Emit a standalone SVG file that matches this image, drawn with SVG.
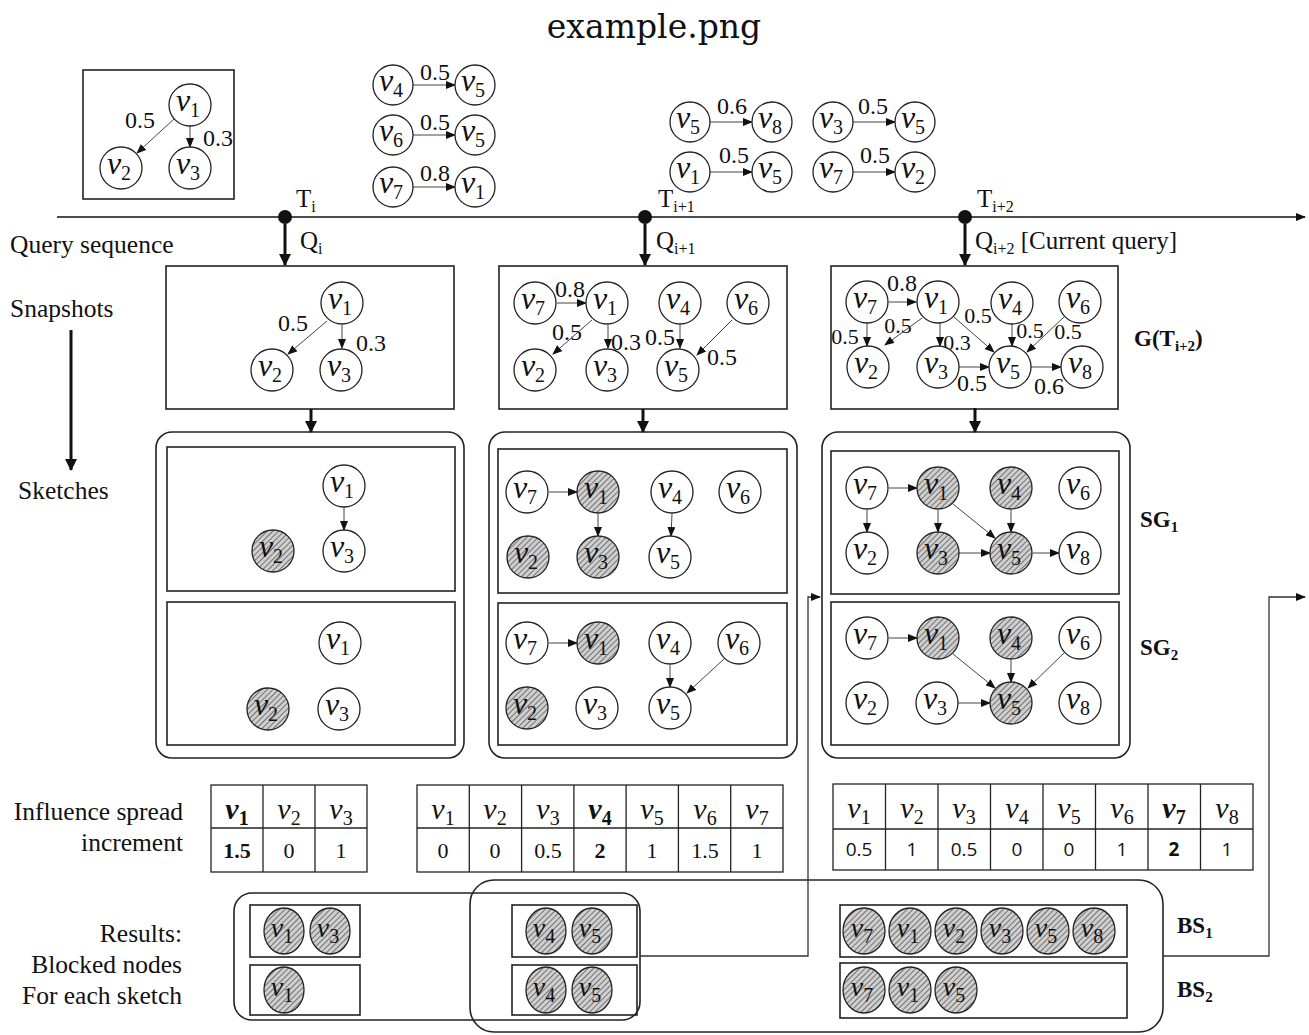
<svg xmlns="http://www.w3.org/2000/svg" width="1309" height="1035" viewBox="0 0 1309 1035">
  <style>
    .serif { font-family: "Liberation Serif", "Times New Roman", serif; fill: #111; }
    .lbl { font-family: "Liberation Serif", "Times New Roman", serif; font-size: 25.5px; fill: #111; }
    .w { font-family: "Liberation Serif", "Times New Roman", serif; font-size: 24px; fill: #111; text-anchor: middle; }
    .w.tight { font-size: 22px; }
    .bold { font-family: "Liberation Serif", "Times New Roman", serif; font-size: 23px; font-weight: bold; fill: #111; }
    .node circle, .node ellipse { fill: #fff; stroke: #222; stroke-width: 1.3; }
    .node.hit circle, .node.hit ellipse { fill: url(#hatch); }
    .node text { font-family: "Liberation Serif", "Times New Roman", serif; font-style: italic; font-size: 32px; fill: #111; text-anchor: middle; }
    .node.sm text { font-size: 28px; }
    .sub { font-style: normal; font-size: 20px; }
    .box { fill: none; stroke: #222; stroke-width: 1.6; }
    .edge { stroke: #444; stroke-width: 1; fill: none; marker-end: url(#arr); }
    .thick { stroke: #111; stroke-width: 3; fill: none; marker-end: url(#arrBig); }
    .wire { stroke: #333; stroke-width: 1.3; fill: none; }
    .cell { fill: none; stroke: #222; stroke-width: 1.3; }
    .hd { font-family: "Liberation Serif", "Times New Roman", serif; font-style: italic; font-size: 30px; fill: #111; text-anchor: middle; }
    .val { font-family: "Liberation Serif", "Times New Roman", serif; font-size: 22px; fill: #111; text-anchor: middle; }
    .val2 { font-family: "Open Sans", "Liberation Sans", sans-serif; font-size: 19px; fill: #111; text-anchor: middle; }
  </style>
  <defs>
    <pattern id="hatch" patternUnits="userSpaceOnUse" width="4" height="4" patternTransform="rotate(45)">
      <rect width="4" height="4" fill="#cfcfcf"/>
      <line x1="0" y1="0" x2="0" y2="4" stroke="#4a4a4a" stroke-width="1.4"/>
    </pattern>
    <marker id="arr" markerUnits="userSpaceOnUse" markerWidth="10" markerHeight="8" refX="9" refY="4" orient="auto">
      <path d="M0,0 L10,4 L0,8 z" fill="#111"/>
    </marker>
    <marker id="arrBig" markerUnits="userSpaceOnUse" markerWidth="12" markerHeight="12" refX="11" refY="6" orient="auto">
      <path d="M0,0 L12,6 L0,12 z" fill="#111"/>
    </marker>
  </defs>

  <rect width="1309" height="1035" fill="#fff"/>

  <!-- title -->
  <text x="654" y="38" font-family="DejaVu Serif, serif" font-size="33" text-anchor="middle" fill="#111">example.png</text>

  <!-- side captions -->
  <g id="captions">
    <text class="lbl" x="10" y="253">Query sequence</text>
    <text class="lbl" x="10" y="317">Snapshots</text>
    <text class="lbl" x="18" y="499">Sketches</text>
    <text class="lbl" x="183" y="820" text-anchor="end">Influence spread</text>
    <text class="lbl" x="183" y="851" text-anchor="end">increment</text>
    <text class="lbl" x="182" y="942" text-anchor="end">Results:</text>
    <text class="lbl" x="182" y="973" text-anchor="end">Blocked nodes</text>
    <text class="lbl" x="182" y="1004" text-anchor="end">For each sketch</text>
    <text class="bold" x="1134" y="346">G(T<tspan font-size="15" dy="5">i+2</tspan><tspan dy="-5">)</tspan></text>
    <text class="bold" x="1140" y="527">SG<tspan font-size="15" dy="5">1</tspan></text>
    <text class="bold" x="1140" y="655">SG<tspan font-size="15" dy="5">2</tspan></text>
    <text class="bold" x="1177" y="933">BS<tspan font-size="15" dy="5">1</tspan></text>
    <text class="bold" x="1177" y="997">BS<tspan font-size="15" dy="5">2</tspan></text>
  </g>

  <!-- timeline -->
  <g id="timeline">
    <line x1="57" y1="217" x2="1305" y2="217" stroke="#111" stroke-width="1.5" marker-end="url(#arr)"/>
    <circle cx="285" cy="217" r="7" fill="#111"/>
    <circle cx="645" cy="217" r="7" fill="#111"/>
    <circle cx="965" cy="217" r="7" fill="#111"/>
    <text class="serif" font-size="25" x="296" y="207">T<tspan font-size="16" dy="5">i</tspan></text>
    <text class="serif" font-size="25" x="658" y="207">T<tspan font-size="16" dy="5">i+1</tspan></text>
    <text class="serif" font-size="25" x="977" y="207">T<tspan font-size="16" dy="5">i+2</tspan></text>
    <text class="serif" font-size="25" x="300" y="249">Q<tspan font-size="16" dy="5">i</tspan></text>
    <text class="serif" font-size="25" x="656" y="249">Q<tspan font-size="16" dy="5">i+1</tspan></text>
    <text class="serif" font-size="25" x="975" y="249">Q<tspan font-size="16" dy="5">i+2</tspan><tspan dy="-5"> [Current query]</tspan></text>
  </g>

  <!-- frames: snapshots, sketch panels, tables, result groups -->
  <g id="frames">
    <rect class="box" x="83" y="70" width="151" height="129"/>
    <rect class="box" x="166" y="266" width="288" height="143"/>
    <rect class="box" x="499" y="266" width="288" height="143"/>
    <rect class="box" x="831" y="266" width="287" height="143"/>

    <rect class="box" x="156" y="432" width="308" height="326" rx="16"/>
    <rect class="box" x="167" y="447" width="288" height="144"/>
    <rect class="box" x="167" y="602" width="288" height="143"/>
    <rect class="box" x="489" y="432" width="308" height="326" rx="16"/>
    <rect class="box" x="498" y="449" width="289" height="144"/>
    <rect class="box" x="498" y="603" width="289" height="142"/>
    <rect class="box" x="822" y="432" width="308" height="326" rx="16"/>
    <rect class="box" x="831" y="451" width="288" height="143"/>
    <rect class="box" x="831" y="602" width="288" height="143"/>

    <rect class="box" x="234" y="893" width="406" height="127" rx="18"/>
    <rect class="box" x="470" y="880" width="693" height="152" rx="24"/>
    <rect class="box" x="250" y="905" width="110" height="52"/>
    <rect class="box" x="250" y="965" width="110" height="50"/>
    <rect class="box" x="512" y="905" width="125" height="52"/>
    <rect class="box" x="512" y="965" width="125" height="50"/>
    <rect class="box" x="840" y="905" width="287" height="52"/>
    <rect class="box" x="840" y="963" width="287" height="55"/>
  </g>

  <!-- influence tables -->
  <g id="table-i">
    <rect class="cell" x="211" y="785" width="156" height="87"/>
    <line class="cell" x1="211" y1="828" x2="367" y2="828"/>
    <line class="cell" x1="263" y1="785" x2="263" y2="872"/>
    <line class="cell" x1="315" y1="785" x2="315" y2="872"/>
    <text class="hd" x="237" y="819" font-weight="bold">v<tspan class="sub" dy="6">1</tspan></text>
    <text class="hd" x="289" y="819">v<tspan class="sub" dy="6">2</tspan></text>
    <text class="hd" x="341" y="819">v<tspan class="sub" dy="6">3</tspan></text>
    <text class="val" x="237" y="858" font-weight="bold">1.5</text>
    <text class="val" x="289" y="858">0</text>
    <text class="val" x="341" y="858">1</text>
  </g>
  <g id="table-i1">
    <rect class="cell" x="417" y="785" width="366" height="87"/>
    <line class="cell" x1="417" y1="828" x2="783" y2="828"/>
    <line class="cell" x1="469.3" y1="785" x2="469.3" y2="872"/>
    <line class="cell" x1="521.6" y1="785" x2="521.6" y2="872"/>
    <line class="cell" x1="573.9" y1="785" x2="573.9" y2="872"/>
    <line class="cell" x1="626.1" y1="785" x2="626.1" y2="872"/>
    <line class="cell" x1="678.4" y1="785" x2="678.4" y2="872"/>
    <line class="cell" x1="730.7" y1="785" x2="730.7" y2="872"/>
    <text class="hd" x="443" y="819">v<tspan class="sub" dy="6">1</tspan></text>
    <text class="hd" x="495" y="819">v<tspan class="sub" dy="6">2</tspan></text>
    <text class="hd" x="548" y="819">v<tspan class="sub" dy="6">3</tspan></text>
    <text class="hd" x="600" y="819" font-weight="bold">v<tspan class="sub" dy="6">4</tspan></text>
    <text class="hd" x="652" y="819">v<tspan class="sub" dy="6">5</tspan></text>
    <text class="hd" x="705" y="819">v<tspan class="sub" dy="6">6</tspan></text>
    <text class="hd" x="757" y="819">v<tspan class="sub" dy="6">7</tspan></text>
    <text class="val" x="443" y="858">0</text>
    <text class="val" x="495" y="858">0</text>
    <text class="val" x="548" y="858">0.5</text>
    <text class="val" x="600" y="858" font-weight="bold">2</text>
    <text class="val" x="652" y="858">1</text>
    <text class="val" x="705" y="858">1.5</text>
    <text class="val" x="757" y="858">1</text>
  </g>
  <g id="table-i2">
    <rect class="cell" x="833" y="784" width="420" height="86"/>
    <line class="cell" x1="833" y1="829" x2="1253" y2="829"/>
    <line class="cell" x1="885.5" y1="784" x2="885.5" y2="870"/>
    <line class="cell" x1="938" y1="784" x2="938" y2="870"/>
    <line class="cell" x1="990.5" y1="784" x2="990.5" y2="870"/>
    <line class="cell" x1="1043" y1="784" x2="1043" y2="870"/>
    <line class="cell" x1="1095.5" y1="784" x2="1095.5" y2="870"/>
    <line class="cell" x1="1148" y1="784" x2="1148" y2="870"/>
    <line class="cell" x1="1200.5" y1="784" x2="1200.5" y2="870"/>
    <text class="hd" x="859" y="818">v<tspan class="sub" dy="6">1</tspan></text>
    <text class="hd" x="912" y="818">v<tspan class="sub" dy="6">2</tspan></text>
    <text class="hd" x="964" y="818">v<tspan class="sub" dy="6">3</tspan></text>
    <text class="hd" x="1017" y="818">v<tspan class="sub" dy="6">4</tspan></text>
    <text class="hd" x="1069" y="818">v<tspan class="sub" dy="6">5</tspan></text>
    <text class="hd" x="1122" y="818">v<tspan class="sub" dy="6">6</tspan></text>
    <text class="hd" x="1174" y="818" font-weight="bold">v<tspan class="sub" dy="6">7</tspan></text>
    <text class="hd" x="1227" y="818">v<tspan class="sub" dy="6">8</tspan></text>
    <text class="val2" x="859" y="856">0.5</text>
    <text class="val2" x="912" y="856">1</text>
    <text class="val2" x="964" y="856">0.5</text>
    <text class="val2" x="1017" y="856">0</text>
    <text class="val2" x="1069" y="856">0</text>
    <text class="val2" x="1122" y="856">1</text>
    <text class="val2" x="1174" y="856" font-weight="bold">2</text>
    <text class="val2" x="1227" y="856">1</text>
  </g>

  <!-- edge weights -->
  <g id="weights">
    <text class="w" x="140" y="128">0.5</text>
    <text class="w" x="218" y="146">0.3</text>
    <text class="w" x="435" y="80">0.5</text>
    <text class="w" x="435" y="130">0.5</text>
    <text class="w" x="435" y="181">0.8</text>
    <text class="w" x="732" y="114">0.6</text>
    <text class="w" x="873" y="114">0.5</text>
    <text class="w" x="734" y="163">0.5</text>
    <text class="w" x="875" y="163">0.5</text>

    <text class="w" x="293" y="331">0.5</text>
    <text class="w" x="371" y="351">0.3</text>

    <text class="w" x="570" y="297">0.8</text>
    <text class="w" x="567" y="340">0.5</text>
    <text class="w" x="626" y="350">0.3</text>
    <text class="w" x="660" y="345">0.5</text>
    <text class="w" x="722" y="365">0.5</text>

    <text class="w" x="902" y="291">0.8</text>
    <text class="w tight" x="845" y="344">0.5</text>
    <text class="w tight" x="898" y="333">0.5</text>
    <text class="w tight" x="957" y="350">0.3</text>
    <text class="w tight" x="978" y="323">0.5</text>
    <text class="w tight" x="1030" y="338">0.5</text>
    <text class="w tight" x="1068" y="339">0.5</text>
    <text class="w" x="972" y="391">0.5</text>
    <text class="w" x="1049" y="394">0.6</text>
  </g>

  <!-- connectors -->
  <g id="connectors">
    <line class="thick" x1="285" y1="224" x2="285" y2="265"/>
    <line class="thick" x1="645" y1="224" x2="645" y2="265"/>
    <line class="thick" x1="965" y1="224" x2="965" y2="265"/>
    <line class="thick" x1="311" y1="409" x2="311" y2="432"/>
    <line class="thick" x1="643" y1="409" x2="643" y2="432"/>
    <line class="thick" x1="975" y1="408" x2="975" y2="432"/>
    <line class="thick" x1="71" y1="330" x2="71" y2="470" stroke-width="2.5"/>

    <polyline class="wire" points="640,956 808,956 808,597 820,597" marker-end="url(#arr)"/>
    <polyline class="wire" points="1163,956 1269,956 1269,597 1305,597" marker-end="url(#arr)"/>

    <!-- initial graph -->
    <line class="edge" x1="190" y1="126" x2="190" y2="147"/>
    <line class="edge" x1="174" y1="119" x2="137" y2="153"/>
    <!-- new edges at T(i+1) -->
    <line class="edge" x1="413" y1="85" x2="455" y2="85"/>
    <line class="edge" x1="413" y1="135" x2="455" y2="135"/>
    <line class="edge" x1="413" y1="187" x2="455" y2="187"/>
    <!-- new edges at T(i+2) -->
    <line class="edge" x1="710" y1="122" x2="752" y2="122"/>
    <line class="edge" x1="853" y1="122" x2="895" y2="122"/>
    <line class="edge" x1="710" y1="172" x2="752" y2="172"/>
    <line class="edge" x1="853" y1="172" x2="895" y2="172"/>

    <!-- snapshot T(i) -->
    <line class="edge" x1="342" y1="325" x2="342" y2="348"/>
    <line class="edge" x1="327" y1="321" x2="288" y2="354"/>
    <!-- snapshot T(i+1) -->
    <line class="edge" x1="557" y1="303" x2="586" y2="303"/>
    <line class="edge" x1="592" y1="320" x2="553" y2="354"/>
    <line class="edge" x1="608" y1="325" x2="608" y2="348"/>
    <line class="edge" x1="680" y1="325" x2="680" y2="348"/>
    <line class="edge" x1="732" y1="320" x2="697" y2="355"/>
    <!-- snapshot T(i+2) -->
    <line class="edge" x1="889" y1="302" x2="916" y2="302"/>
    <line class="edge" x1="867" y1="323" x2="867" y2="346"/>
    <line class="edge" x1="922" y1="318" x2="885" y2="345"/>
    <line class="edge" x1="940" y1="323" x2="940" y2="346"/>
    <line class="edge" x1="954" y1="317" x2="994" y2="352"/>
    <line class="edge" x1="1012" y1="324" x2="1012" y2="346"/>
    <line class="edge" x1="1064" y1="317" x2="1027" y2="352"/>
    <line class="edge" x1="959" y1="367" x2="989" y2="367"/>
    <line class="edge" x1="1031" y1="367" x2="1061" y2="367"/>

    <!-- sketches Q(i) -->
    <line class="edge" x1="344" y1="507" x2="344" y2="530"/>
    <!-- sketches Q(i+1), SG1 -->
    <line class="edge" x1="549" y1="492" x2="577" y2="492"/>
    <line class="edge" x1="598" y1="514" x2="598" y2="536"/>
    <line class="edge" x1="672" y1="514" x2="671" y2="536"/>
    <!-- sketches Q(i+1), SG2 -->
    <line class="edge" x1="549" y1="643" x2="577" y2="643"/>
    <line class="edge" x1="670" y1="665" x2="670" y2="687"/>
    <line class="edge" x1="724" y1="659" x2="687" y2="693"/>
    <!-- sketches Q(i+2), SG1 -->
    <line class="edge" x1="889" y1="488" x2="917" y2="488"/>
    <line class="edge" x1="867" y1="510" x2="867" y2="532"/>
    <line class="edge" x1="938" y1="510" x2="938" y2="532"/>
    <line class="edge" x1="953" y1="504" x2="995" y2="538"/>
    <line class="edge" x1="1011" y1="510" x2="1011" y2="532"/>
    <line class="edge" x1="959" y1="553" x2="990" y2="553"/>
    <line class="edge" x1="1033" y1="553" x2="1059" y2="553"/>
    <!-- sketches Q(i+2), SG2 -->
    <line class="edge" x1="889" y1="638" x2="917" y2="638"/>
    <line class="edge" x1="953" y1="654" x2="995" y2="688"/>
    <line class="edge" x1="1011" y1="660" x2="1011" y2="682"/>
    <line class="edge" x1="1064" y1="653" x2="1028" y2="688"/>
    <line class="edge" x1="958" y1="703" x2="990" y2="703"/>
  </g>

  <!-- initial graph nodes -->
  <g id="g0-v1" class="node"><circle cx="190" cy="105" r="21"/><text x="188" y="111">v<tspan class="sub" dy="6">1</tspan></text></g>
  <g id="g0-v2" class="node"><circle cx="121" cy="168" r="21"/><text x="119" y="174">v<tspan class="sub" dy="6">2</tspan></text></g>
  <g id="g0-v3" class="node"><circle cx="190" cy="168" r="21"/><text x="188" y="174">v<tspan class="sub" dy="6">3</tspan></text></g>

  <!-- edges arriving at T(i+1) -->
  <g id="d1-v4" class="node"><circle cx="393" cy="85" r="20"/><text x="391" y="91">v<tspan class="sub" dy="6">4</tspan></text></g>
  <g id="d1-v5a" class="node"><circle cx="475" cy="85" r="20"/><text x="473" y="91">v<tspan class="sub" dy="6">5</tspan></text></g>
  <g id="d1-v6" class="node"><circle cx="393" cy="135" r="20"/><text x="391" y="141">v<tspan class="sub" dy="6">6</tspan></text></g>
  <g id="d1-v5b" class="node"><circle cx="475" cy="135" r="20"/><text x="473" y="141">v<tspan class="sub" dy="6">5</tspan></text></g>
  <g id="d1-v7" class="node"><circle cx="393" cy="187" r="20"/><text x="391" y="193">v<tspan class="sub" dy="6">7</tspan></text></g>
  <g id="d1-v1" class="node"><circle cx="475" cy="187" r="20"/><text x="473" y="193">v<tspan class="sub" dy="6">1</tspan></text></g>

  <!-- edges arriving at T(i+2) -->
  <g id="d2-v5a" class="node"><circle cx="690" cy="122" r="20"/><text x="688" y="128">v<tspan class="sub" dy="6">5</tspan></text></g>
  <g id="d2-v8" class="node"><circle cx="772" cy="122" r="20"/><text x="770" y="128">v<tspan class="sub" dy="6">8</tspan></text></g>
  <g id="d2-v3" class="node"><circle cx="833" cy="122" r="20"/><text x="831" y="128">v<tspan class="sub" dy="6">3</tspan></text></g>
  <g id="d2-v5b" class="node"><circle cx="915" cy="122" r="20"/><text x="913" y="128">v<tspan class="sub" dy="6">5</tspan></text></g>
  <g id="d2-v1" class="node"><circle cx="690" cy="172" r="20"/><text x="688" y="178">v<tspan class="sub" dy="6">1</tspan></text></g>
  <g id="d2-v5c" class="node"><circle cx="772" cy="172" r="20"/><text x="770" y="178">v<tspan class="sub" dy="6">5</tspan></text></g>
  <g id="d2-v7" class="node"><circle cx="833" cy="172" r="20"/><text x="831" y="178">v<tspan class="sub" dy="6">7</tspan></text></g>
  <g id="d2-v2" class="node"><circle cx="915" cy="172" r="20"/><text x="913" y="178">v<tspan class="sub" dy="6">2</tspan></text></g>

  <!-- snapshot G(T i) -->
  <g id="s0-v1" class="node"><circle cx="342" cy="303" r="21"/><text x="340" y="309">v<tspan class="sub" dy="6">1</tspan></text></g>
  <g id="s0-v2" class="node"><circle cx="272" cy="370" r="21"/><text x="270" y="376">v<tspan class="sub" dy="6">2</tspan></text></g>
  <g id="s0-v3" class="node"><circle cx="341" cy="370" r="21"/><text x="339" y="376">v<tspan class="sub" dy="6">3</tspan></text></g>

  <!-- snapshot G(T i+1) -->
  <g id="s1-v7" class="node"><circle cx="535" cy="303" r="21"/><text x="533" y="309">v<tspan class="sub" dy="6">7</tspan></text></g>
  <g id="s1-v1" class="node"><circle cx="607" cy="303" r="21"/><text x="605" y="309">v<tspan class="sub" dy="6">1</tspan></text></g>
  <g id="s1-v4" class="node"><circle cx="680" cy="303" r="21"/><text x="678" y="309">v<tspan class="sub" dy="6">4</tspan></text></g>
  <g id="s1-v6" class="node"><circle cx="748" cy="303" r="21"/><text x="746" y="309">v<tspan class="sub" dy="6">6</tspan></text></g>
  <g id="s1-v2" class="node"><circle cx="535" cy="370" r="21"/><text x="533" y="376">v<tspan class="sub" dy="6">2</tspan></text></g>
  <g id="s1-v3" class="node"><circle cx="607" cy="370" r="21"/><text x="605" y="376">v<tspan class="sub" dy="6">3</tspan></text></g>
  <g id="s1-v5" class="node"><circle cx="678" cy="370" r="21"/><text x="676" y="376">v<tspan class="sub" dy="6">5</tspan></text></g>

  <!-- snapshot G(T i+2) -->
  <g id="s2-v7" class="node"><circle cx="867" cy="302" r="21"/><text x="865" y="308">v<tspan class="sub" dy="6">7</tspan></text></g>
  <g id="s2-v1" class="node"><circle cx="938" cy="302" r="21"/><text x="936" y="308">v<tspan class="sub" dy="6">1</tspan></text></g>
  <g id="s2-v4" class="node"><circle cx="1012" cy="303" r="21"/><text x="1010" y="309">v<tspan class="sub" dy="6">4</tspan></text></g>
  <g id="s2-v6" class="node"><circle cx="1080" cy="302" r="21"/><text x="1078" y="308">v<tspan class="sub" dy="6">6</tspan></text></g>
  <g id="s2-v2" class="node"><circle cx="868" cy="367" r="21"/><text x="866" y="373">v<tspan class="sub" dy="6">2</tspan></text></g>
  <g id="s2-v3" class="node"><circle cx="938" cy="367" r="21"/><text x="936" y="373">v<tspan class="sub" dy="6">3</tspan></text></g>
  <g id="s2-v5" class="node"><circle cx="1010" cy="367" r="21"/><text x="1008" y="373">v<tspan class="sub" dy="6">5</tspan></text></g>
  <g id="s2-v8" class="node"><circle cx="1082" cy="367" r="21"/><text x="1080" y="373">v<tspan class="sub" dy="6">8</tspan></text></g>

  <!-- sketches for Q(i) -->
  <g id="k0a-v1" class="node"><circle cx="344" cy="486" r="21"/><text x="342" y="492">v<tspan class="sub" dy="6">1</tspan></text></g>
  <g id="k0a-v2" class="node hit"><circle cx="273" cy="551" r="21"/><text x="271" y="557">v<tspan class="sub" dy="6">2</tspan></text></g>
  <g id="k0a-v3" class="node"><circle cx="344" cy="551" r="21"/><text x="342" y="557">v<tspan class="sub" dy="6">3</tspan></text></g>
  <g id="k0b-v1" class="node"><circle cx="340" cy="643" r="21"/><text x="338" y="649">v<tspan class="sub" dy="6">1</tspan></text></g>
  <g id="k0b-v2" class="node hit"><circle cx="268" cy="709" r="21"/><text x="266" y="715">v<tspan class="sub" dy="6">2</tspan></text></g>
  <g id="k0b-v3" class="node"><circle cx="339" cy="709" r="21"/><text x="337" y="715">v<tspan class="sub" dy="6">3</tspan></text></g>

  <!-- sketches for Q(i+1) -->
  <g id="k1a-v7" class="node"><circle cx="527" cy="492" r="21"/><text x="525" y="498">v<tspan class="sub" dy="6">7</tspan></text></g>
  <g id="k1a-v1" class="node hit"><circle cx="598" cy="492" r="21"/><text x="596" y="498">v<tspan class="sub" dy="6">1</tspan></text></g>
  <g id="k1a-v4" class="node"><circle cx="672" cy="492" r="21"/><text x="670" y="498">v<tspan class="sub" dy="6">4</tspan></text></g>
  <g id="k1a-v6" class="node"><circle cx="740" cy="492" r="21"/><text x="738" y="498">v<tspan class="sub" dy="6">6</tspan></text></g>
  <g id="k1a-v2" class="node hit"><circle cx="528" cy="557" r="21"/><text x="526" y="563">v<tspan class="sub" dy="6">2</tspan></text></g>
  <g id="k1a-v3" class="node hit"><circle cx="598" cy="557" r="21"/><text x="596" y="563">v<tspan class="sub" dy="6">3</tspan></text></g>
  <g id="k1a-v5" class="node"><circle cx="670" cy="557" r="21"/><text x="668" y="563">v<tspan class="sub" dy="6">5</tspan></text></g>
  <g id="k1b-v7" class="node"><circle cx="527" cy="643" r="21"/><text x="525" y="649">v<tspan class="sub" dy="6">7</tspan></text></g>
  <g id="k1b-v1" class="node hit"><circle cx="598" cy="643" r="21"/><text x="596" y="649">v<tspan class="sub" dy="6">1</tspan></text></g>
  <g id="k1b-v4" class="node"><circle cx="670" cy="643" r="21"/><text x="668" y="649">v<tspan class="sub" dy="6">4</tspan></text></g>
  <g id="k1b-v6" class="node"><circle cx="739" cy="643" r="21"/><text x="737" y="649">v<tspan class="sub" dy="6">6</tspan></text></g>
  <g id="k1b-v2" class="node hit"><circle cx="527" cy="708" r="21"/><text x="525" y="714">v<tspan class="sub" dy="6">2</tspan></text></g>
  <g id="k1b-v3" class="node"><circle cx="597" cy="708" r="21"/><text x="595" y="714">v<tspan class="sub" dy="6">3</tspan></text></g>
  <g id="k1b-v5" class="node"><circle cx="670" cy="708" r="21"/><text x="668" y="714">v<tspan class="sub" dy="6">5</tspan></text></g>

  <!-- sketches for Q(i+2) -->
  <g id="k2a-v7" class="node"><circle cx="867" cy="488" r="21"/><text x="865" y="494">v<tspan class="sub" dy="6">7</tspan></text></g>
  <g id="k2a-v1" class="node hit"><circle cx="938" cy="488" r="21"/><text x="936" y="494">v<tspan class="sub" dy="6">1</tspan></text></g>
  <g id="k2a-v4" class="node hit"><circle cx="1011" cy="488" r="21"/><text x="1009" y="494">v<tspan class="sub" dy="6">4</tspan></text></g>
  <g id="k2a-v6" class="node"><circle cx="1080" cy="488" r="21"/><text x="1078" y="494">v<tspan class="sub" dy="6">6</tspan></text></g>
  <g id="k2a-v2" class="node"><circle cx="867" cy="553" r="21"/><text x="865" y="559">v<tspan class="sub" dy="6">2</tspan></text></g>
  <g id="k2a-v3" class="node hit"><circle cx="938" cy="553" r="21"/><text x="936" y="559">v<tspan class="sub" dy="6">3</tspan></text></g>
  <g id="k2a-v5" class="node hit"><circle cx="1011" cy="553" r="21"/><text x="1009" y="559">v<tspan class="sub" dy="6">5</tspan></text></g>
  <g id="k2a-v8" class="node"><circle cx="1080" cy="553" r="21"/><text x="1078" y="559">v<tspan class="sub" dy="6">8</tspan></text></g>
  <g id="k2b-v7" class="node"><circle cx="867" cy="638" r="21"/><text x="865" y="644">v<tspan class="sub" dy="6">7</tspan></text></g>
  <g id="k2b-v1" class="node hit"><circle cx="938" cy="638" r="21"/><text x="936" y="644">v<tspan class="sub" dy="6">1</tspan></text></g>
  <g id="k2b-v4" class="node hit"><circle cx="1011" cy="638" r="21"/><text x="1009" y="644">v<tspan class="sub" dy="6">4</tspan></text></g>
  <g id="k2b-v6" class="node"><circle cx="1080" cy="638" r="21"/><text x="1078" y="644">v<tspan class="sub" dy="6">6</tspan></text></g>
  <g id="k2b-v2" class="node"><circle cx="867" cy="703" r="21"/><text x="865" y="709">v<tspan class="sub" dy="6">2</tspan></text></g>
  <g id="k2b-v3" class="node"><circle cx="937" cy="703" r="21"/><text x="935" y="709">v<tspan class="sub" dy="6">3</tspan></text></g>
  <g id="k2b-v5" class="node hit"><circle cx="1011" cy="703" r="21"/><text x="1009" y="709">v<tspan class="sub" dy="6">5</tspan></text></g>
  <g id="k2b-v8" class="node"><circle cx="1080" cy="703" r="21"/><text x="1078" y="709">v<tspan class="sub" dy="6">8</tspan></text></g>

  <!-- blocked node sets -->
  <g id="r0a-v1" class="node hit sm"><ellipse cx="284" cy="931" rx="20" ry="23"/><text x="282" y="937">v<tspan class="sub" dy="6">1</tspan></text></g>
  <g id="r0a-v3" class="node hit sm"><ellipse cx="330" cy="931" rx="20" ry="23"/><text x="328" y="937">v<tspan class="sub" dy="6">3</tspan></text></g>
  <g id="r0b-v1" class="node hit sm"><ellipse cx="284" cy="990" rx="20" ry="23"/><text x="282" y="996">v<tspan class="sub" dy="6">1</tspan></text></g>
  <g id="r1a-v4" class="node hit sm"><ellipse cx="546" cy="931" rx="20" ry="23"/><text x="544" y="937">v<tspan class="sub" dy="6">4</tspan></text></g>
  <g id="r1a-v5" class="node hit sm"><ellipse cx="592" cy="931" rx="20" ry="23"/><text x="590" y="937">v<tspan class="sub" dy="6">5</tspan></text></g>
  <g id="r1b-v4" class="node hit sm"><ellipse cx="546" cy="990" rx="20" ry="23"/><text x="544" y="996">v<tspan class="sub" dy="6">4</tspan></text></g>
  <g id="r1b-v5" class="node hit sm"><ellipse cx="592" cy="990" rx="20" ry="23"/><text x="590" y="996">v<tspan class="sub" dy="6">5</tspan></text></g>
  <g id="bs1-v7" class="node hit sm"><ellipse cx="864" cy="931" rx="21" ry="23"/><text x="862" y="937">v<tspan class="sub" dy="6">7</tspan></text></g>
  <g id="bs1-v1" class="node hit sm"><ellipse cx="910" cy="931" rx="21" ry="23"/><text x="908" y="937">v<tspan class="sub" dy="6">1</tspan></text></g>
  <g id="bs1-v2" class="node hit sm"><ellipse cx="956" cy="931" rx="21" ry="23"/><text x="954" y="937">v<tspan class="sub" dy="6">2</tspan></text></g>
  <g id="bs1-v3" class="node hit sm"><ellipse cx="1002" cy="931" rx="21" ry="23"/><text x="1000" y="937">v<tspan class="sub" dy="6">3</tspan></text></g>
  <g id="bs1-v5" class="node hit sm"><ellipse cx="1048" cy="931" rx="21" ry="23"/><text x="1046" y="937">v<tspan class="sub" dy="6">5</tspan></text></g>
  <g id="bs1-v8" class="node hit sm"><ellipse cx="1094" cy="931" rx="21" ry="23"/><text x="1092" y="937">v<tspan class="sub" dy="6">8</tspan></text></g>
  <g id="bs2-v7" class="node hit sm"><ellipse cx="864" cy="990" rx="21" ry="23"/><text x="862" y="996">v<tspan class="sub" dy="6">7</tspan></text></g>
  <g id="bs2-v1" class="node hit sm"><ellipse cx="910" cy="990" rx="21" ry="23"/><text x="908" y="996">v<tspan class="sub" dy="6">1</tspan></text></g>
  <g id="bs2-v5" class="node hit sm"><ellipse cx="956" cy="990" rx="21" ry="23"/><text x="954" y="996">v<tspan class="sub" dy="6">5</tspan></text></g>
</svg>
